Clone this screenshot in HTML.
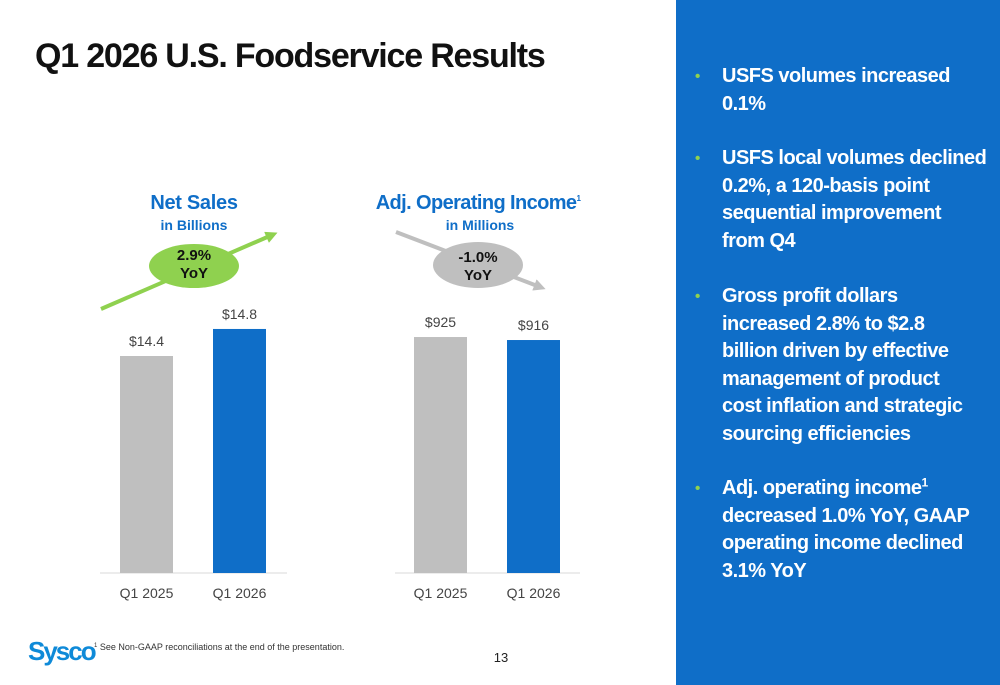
<!DOCTYPE html>
<html><head><meta charset="utf-8"><style>
body{margin:0;width:1000px;height:685px;position:relative;background:#fff;font-family:"Liberation Sans",sans-serif;overflow:hidden}
.abs{position:absolute}
#title{left:35px;top:37px;font-size:34px;font-weight:bold;color:#111;letter-spacing:-1.2px}
#panel{left:676px;top:0;width:324px;height:685px;background:#0f6ec8}
.bul{position:absolute;left:722px;width:280px;color:#fff;font-weight:bold;font-size:20px;line-height:27.5px;letter-spacing:-0.5px;white-space:nowrap}
.dot{position:absolute;left:-27px;top:0;color:#8fd14f;font-size:15px}
sup{font-size:12px;line-height:0}
</style></head><body>
<div class="abs" id="title">Q1 2026 U.S. Foodservice Results</div>
<div class="abs" id="panel"></div>
<div class="bul" style="top:63px"><span class="dot">•</span>USFS volumes increased<br>0.1%</div>
<div class="bul" style="top:145px"><span class="dot">•</span>USFS local volumes declined<br>0.2%, a 120-basis point<br>sequential improvement<br>from Q4</div>
<div class="bul" style="top:283px"><span class="dot">•</span>Gross profit dollars<br>increased 2.8% to $2.8<br>billion driven by effective<br>management of product<br>cost inflation and strategic<br>sourcing efficiencies</div>
<div class="bul" style="top:475px"><span class="dot">•</span>Adj. operating income<sup>1</sup><br>decreased 1.0% YoY, GAAP<br>operating income declined<br>3.1% YoY</div>

<svg id="chart" class="abs" style="left:0;top:0" width="676" height="685">
<defs>
<marker id="ag" markerWidth="3" markerHeight="3" refX="1.5" refY="1.5" orient="auto"><path d="M0,0L3,1.5L0,3z" fill="#8fd14f"/></marker>
<marker id="ay" markerWidth="3" markerHeight="3" refX="1.5" refY="1.5" orient="auto"><path d="M0,0L3,1.5L0,3z" fill="#bfbfbf"/></marker>
</defs>
<text x="194" y="209" text-anchor="middle" font-size="20" font-weight="bold" fill="#0f6ec8" letter-spacing="-0.3">Net Sales</text>
<text x="194" y="230" text-anchor="middle" font-size="14" font-weight="bold" fill="#0f6ec8">in Billions</text>
<text x="478" y="209" text-anchor="middle" font-size="20" font-weight="bold" fill="#0f6ec8" letter-spacing="-0.6">Adj. Operating Income<tspan font-size="8" dy="-8">1</tspan></text>
<text x="480" y="230" text-anchor="middle" font-size="14" font-weight="bold" fill="#0f6ec8">in Millions</text>
<line x1="101" y1="309" x2="272" y2="235" stroke="#8fd14f" stroke-width="4" marker-end="url(#ag)"/>
<ellipse cx="194" cy="266" rx="45" ry="22" fill="#8fd14f"/>
<text x="194" y="260" text-anchor="middle" font-size="15" font-weight="bold" fill="#111">2.9%</text>
<text x="194" y="278" text-anchor="middle" font-size="15" font-weight="bold" fill="#111">YoY</text>
<line x1="396" y1="232" x2="540" y2="287" stroke="#bfbfbf" stroke-width="4" marker-end="url(#ay)"/>
<ellipse cx="478" cy="265" rx="45" ry="23" fill="#bfbfbf"/>
<text x="478" y="262" text-anchor="middle" font-size="15" font-weight="bold" fill="#111">-1.0%</text>
<text x="478" y="280" text-anchor="middle" font-size="15" font-weight="bold" fill="#111">YoY</text>
<g id="bars"></g>
<text x="28" y="660" font-size="26" font-weight="bold" fill="#0f8ad8" letter-spacing="-2">Sysco</text>
<text x="94" y="650" font-size="9" fill="#333"><tspan font-size="6" dy="-3">1</tspan><tspan dy="3"> See Non-GAAP reconciliations at the end of the presentation.</tspan></text>
<text x="501" y="662" text-anchor="middle" font-size="13" fill="#222">13</text>
</svg>
<script>
const categories=["Q1 2025","Q1 2026"];
const salesValues=[14.4,14.8];
const salesLabels=["$14.4","$14.8"];
const incomeValues=[925,916];
const incomeLabels=["$925","$916"];
const colors=["#bfbfbf","#0f6ec8"];
const ns="http://www.w3.org/2000/svg";
const g=document.getElementById('bars');
function mk(t,a){const e=document.createElementNS(ns,t);for(const k in a)e.setAttribute(k,a[k]);g.appendChild(e);return e;}
function drawChart(vals,labels,x0,bl,ax0,ax1,vmin,scale,name){
  const base=573;
  const y=v=>base-(v-vmin)*scale;
  const l=mk('line',{x1:ax0,x2:ax1,y1:base,y2:base,stroke:'#d9d9d9','stroke-width':1});
  
  
  vals.forEach((v,i)=>{
    const x=x0+i*bl;
    const r=mk('rect',{x:x,y:y(v),width:53,height:base-y(v),fill:colors[i]});
    
    
    const t=mk('text',{x:x+26.5,y:y(v)-10,'text-anchor':'middle','font-size':14,fill:'#444'});
    t.textContent=labels[i];
    
    
    const c=mk('text',{x:x+26.5,y:598,'text-anchor':'middle','font-size':14,fill:'#444'});
    c.textContent=categories[i];
    
    
  });
}
drawChart(salesValues,salesLabels,120,93,100,287,11.19,67.6,'sales');
drawChart(incomeValues,incomeLabels,414,93,395,580,217,0.3333,'income');
</script>
</body></html>
